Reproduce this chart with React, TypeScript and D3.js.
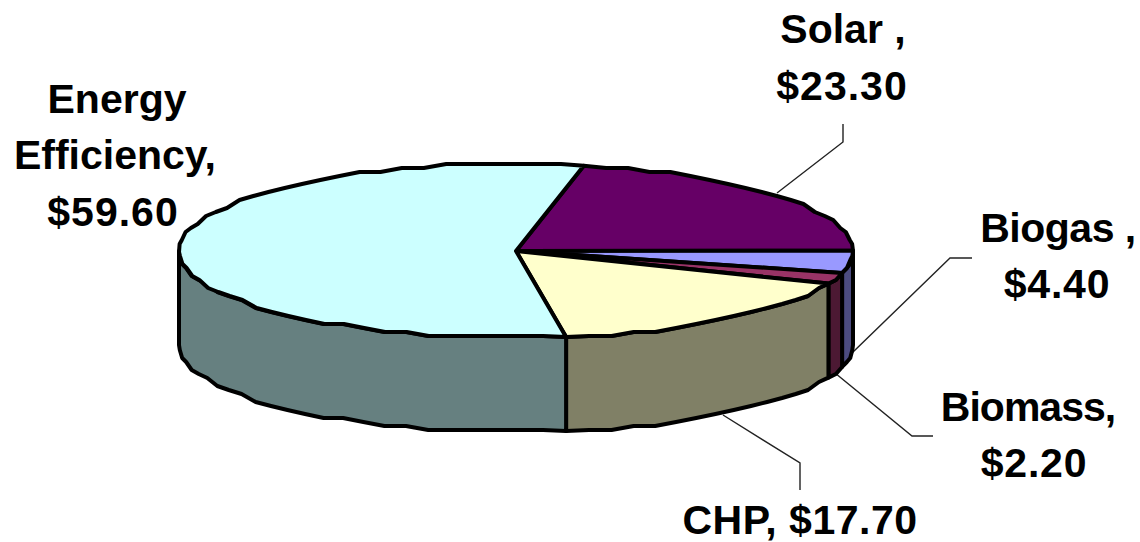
import React from "react";
import * as d3 from "d3";

const categories = ["Solar", "Biogas", "Biomass", "CHP", "Energy Efficiency"];
const values = [23.3, 4.4, 2.2, 17.7, 59.6];
const topColors = ["#660066", "#9999FF", "#993366", "#FFFFCC", "#CCFFFF"];
const sideColors = ["#330033", "#4C4C80", "#4C1933", "#808066", "#668080"];

const W = 1140, H = 542;
const CX = 516, CY = 251, RX = 337, RY = 87, DEPTH = 94;
const START_DEG = 11.6;
const rad = (d: number) => (d * Math.PI) / 180;

const xScale = d3.scaleLinear().domain([-1, 1]).range([CX - RX, CX + RX]);
const yScale = d3.scaleLinear().domain([-1, 1]).range([CY - RY, CY + RY]);

const arcs = d3.pie<number>().sort(null).startAngle(rad(START_DEG)).endAngle(rad(START_DEG) + 2 * Math.PI)(values);

// The source picture is a low-resolution raster scaled up, so its outline steps in small facets.
const GRID = 4;
const snap = (v: number) => Math.round(v / GRID) * GRID;
const pt = (a: number, dy = 0): [number, number] => [xScale(Math.sin(a)), yScale(-Math.cos(a)) + dy];
const sample = (a0: number, a1: number, dy = 0) => {
  const n = Math.max(1, Math.ceil(Math.abs(a1 - a0) / rad(4)));
  return d3.range(n + 1).map((i): [number, number] => {
    const p = pt(a0 + ((a1 - a0) * i) / n, dy);
    return i === 0 || i === n ? p : [p[0], snap(p[1] - dy) + dy];
  });
};
const line = d3.line();

const topPath = (a0: number, a1: number) =>
  line([[xScale(0), yScale(0)], ...sample(a0, a1)])! + "Z";

const sidePath = (a0: number, a1: number) => {
  const s = Math.max(a0, rad(90));
  const e = Math.min(a1, rad(270));
  if (e <= s) return null;
  return line([...sample(s, e), ...sample(e, s, DEPTH)])! + "Z";
};

const labelLines: [number, number][][] = [
  [[777, 193], [843, 142], [843, 124]],
  [[852, 353], [950, 258], [972, 258]],
  [[835, 373], [912, 436], [933, 436]],
  [[723, 415], [800, 463], [800, 490]],
];

const labels: { x: number; y: number; t: string; ls: number }[] = [
  { x: 843, y: 43, t: "Solar ,", ls: 0 },
  { x: 842, y: 100, t: "$23.30", ls: 1 },
  { x: 117, y: 113, t: "Energy", ls: 0 },
  { x: 115, y: 169, t: "Efficiency,", ls: 0 },
  { x: 113, y: 226, t: "$59.60", ls: 1 },
  { x: 1058, y: 242, t: "Biogas ,", ls: -0.5 },
  { x: 1057, y: 298, t: "$4.40", ls: 0.8 },
  { x: 1028, y: 421, t: "Biomass,", ls: -1 },
  { x: 1034, y: 477, t: "$2.20", ls: 0.8 },
  { x: 800, y: 534, t: "CHP, $17.70", ls: 0.5 },
];

export default function App() {
  return (
    <svg
      width={W}
      height={H}
      viewBox={`0 0 ${W} ${H}`}
      style={{ position: "absolute", left: 0, top: 0, background: "#fff" }}
    >
      {labelLines.map((l, i) => (
        <path key={i} d={line(l)!} fill="none" stroke="#222" strokeWidth={1.4} />
      ))}
      {arcs.map((a, i) => {
        const d = sidePath(a.startAngle, a.endAngle);
        return d ? (
          <path key={categories[i]} d={d} fill={sideColors[i]} stroke="#000" strokeWidth={4} strokeLinejoin="round" />
        ) : null;
      })}
      {arcs.map((a, i) => (
        <path
          key={categories[i]}
          d={topPath(a.startAngle, a.endAngle)}
          fill={topColors[i]}
          stroke="#000"
          strokeWidth={4}
          strokeLinejoin="round"
        />
      ))}
      {labels.map((l) => (
        <text
          key={l.t}
          x={l.x}
          y={l.y}
          textAnchor="middle"
          fontFamily="'Liberation Sans', Arial, sans-serif"
          fontWeight="bold"
          fontSize={41}
          letterSpacing={l.ls}
          fill="#000"
        >
          {l.t}
        </text>
      ))}
    </svg>
  );
}
